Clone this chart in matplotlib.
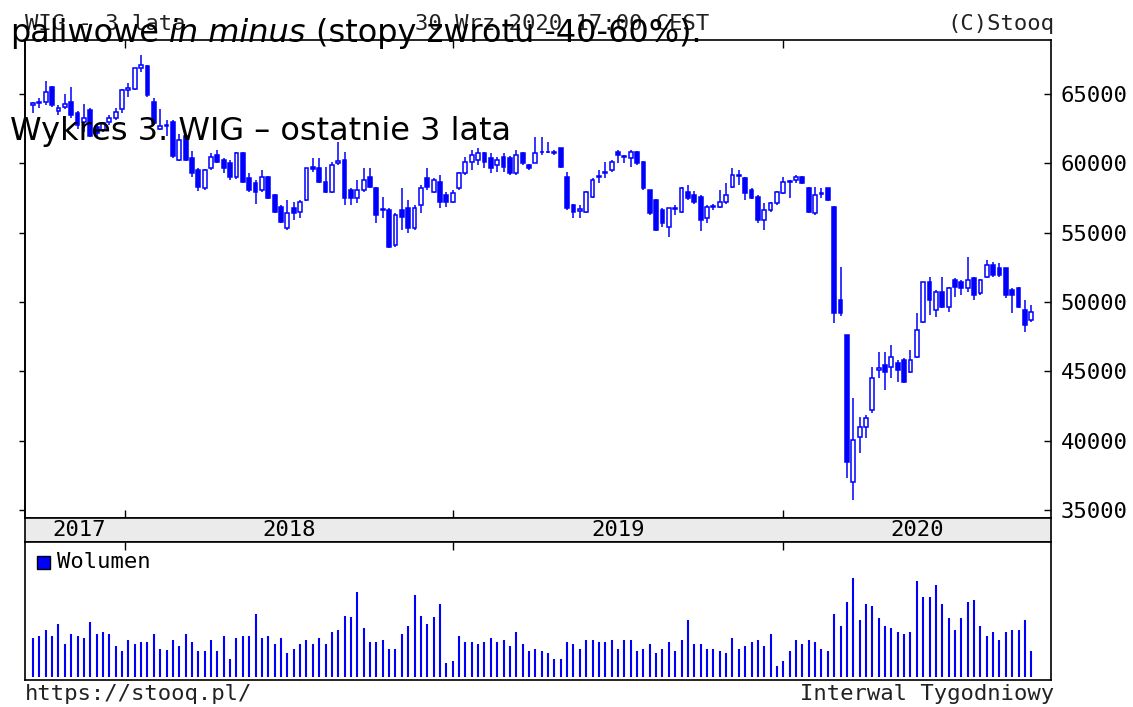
import matplotlib
matplotlib.use("Agg")
import matplotlib.pyplot as plt
from matplotlib.patches import Rectangle
import numpy as np

# weekly WIG candles, Oct 2017 - Sep 2020
opens = [64200, 64350, 64450, 65530, 63800, 64100, 64400, 63600, 63000, 63850,
         62600, 62400, 63000, 63250, 63950, 65300, 65350, 66850, 67000, 64450,
         62500, 62700, 63000, 60250, 62000, 60360, 59500, 58200, 59640, 60600,
         60240, 60000, 59040, 60770, 58920, 58560, 58080, 59040, 57720, 56880,
         55320, 56760, 56520, 57360, 59750, 59640, 58680, 57960, 60000, 60240,
         58080, 57480, 58080, 59040, 58200, 56640, 56640, 54100, 56640, 56760,
         55320, 57000, 58920, 57960, 58680, 57720, 57240, 58200, 59280, 60120,
         60240, 60720, 60360, 59880, 60480, 60360, 59280, 60720, 59850, 60050,
         60800, 60800, 60760, 61080, 59040, 57000, 56600, 56520, 57600, 59000,
         59280, 59520, 60840, 60450, 60360, 60840, 60120, 58080, 57360, 56640,
         55440, 56700, 56520, 57960, 57720, 57600, 56040, 56850, 56880, 57240,
         58320, 59100, 58920, 58080, 57600, 55920, 56640, 57120, 57840, 58650,
         58800, 59040, 58200, 56400, 57800, 58200, 56880, 50150, 47620, 37020,
         40300, 41020, 42220, 45100, 45460, 45340, 45580, 45820, 44980, 46060,
         48590, 51470, 49430, 50750, 49670, 51590, 51470, 50990, 51710, 50630,
         51830, 52670, 52430, 52430, 50870, 50990, 49430, 48710]
highs = [64450, 64700, 65950, 65600, 64200, 65000, 65500, 63800, 64300, 64000,
         62800, 63000, 63500, 64000, 65400, 65800, 66900, 67800, 67100, 64700,
         63900, 63100, 63100, 62100, 62100, 60900, 59700, 59600, 60720, 60960,
         60360, 60240, 60800, 60800, 59280, 58800, 59520, 59100, 57800, 57000,
         57360, 57240, 57360, 59700, 60360, 60360, 59760, 60120, 61560, 60840,
         58200, 58800, 59640, 59640, 58300, 57600, 56800, 56400, 58200, 57360,
         57000, 58440, 59640, 58920, 59160, 57960, 58080, 59400, 60480, 60960,
         61080, 60840, 60720, 60480, 60720, 60500, 60960, 60800, 59950, 61900,
         61920, 61560, 60960, 61100, 59400, 57100, 57000, 58000, 58920, 59520,
         60120, 60240, 60960, 60600, 60960, 60900, 60200, 58100, 57400, 56800,
         56800, 57000, 58300, 58440, 58000, 57700, 57000, 57100, 58080, 58560,
         59640, 59520, 59000, 58200, 57720, 57120, 57200, 58000, 59040, 58800,
         59160, 59100, 58320, 58320, 58200, 58200, 56900, 52550, 47620, 43060,
         41740, 41860, 45340, 46420, 46420, 46900, 45820, 45940, 46540, 49190,
         51470, 51830, 50870, 51830, 51110, 51710, 51590, 53270, 51830, 51700,
         53030, 52910, 52790, 52430, 50990, 51110, 50150, 49790]
lows = [63600, 64000, 64200, 64100, 63500, 63900, 63300, 62500, 62300, 61900,
        61800, 62300, 62800, 63100, 63600, 64800, 65300, 66600, 64800, 62800,
        62400, 62000, 60400, 60200, 60200, 59000, 58000, 58100, 59520, 60000,
        59280, 58800, 58900, 58560, 57960, 57100, 57960, 57400, 56400, 55700,
        55200, 55920, 56040, 57300, 59400, 58560, 57900, 57840, 59900, 57000,
        57000, 57120, 57960, 58200, 55680, 56040, 53900, 54000, 55200, 55000,
        55200, 56400, 58080, 57840, 56760, 56880, 57120, 58080, 59200, 59520,
        59880, 59640, 59280, 59400, 59400, 59200, 59160, 59900, 59500, 60000,
        60600, 60720, 60600, 59700, 56640, 56040, 56040, 56400, 57480, 58560,
        58920, 59400, 60000, 60000, 59760, 59900, 58100, 56280, 55100, 55400,
        54700, 56300, 56400, 57360, 57100, 55100, 55700, 56640, 56760, 57100,
        58200, 58440, 57360, 57400, 55680, 55200, 56500, 57000, 57800, 57480,
        58560, 58500, 56400, 56280, 57480, 57300, 48470, 49000, 37290, 35730,
        39100, 40180, 41980, 44500, 43660, 44500, 44260, 44140, 44860, 45940,
        48470, 49070, 48950, 49550, 49310, 50390, 50510, 50750, 50150, 50500,
        51710, 51830, 51830, 50270, 49190, 49550, 47870, 48590]
closes = [64350, 64450, 65170, 64200, 64000, 64300, 63500, 62800, 63300, 62000,
          62200, 62900, 63250, 63700, 65300, 65450, 66850, 67100, 64900, 62900,
          62700, 62800, 60500, 61700, 60250, 59300, 58300, 59520, 60480, 60120,
          59640, 59040, 60770, 58680, 58080, 57960, 59040, 57480, 56520, 55800,
          56400, 56400, 57240, 59640, 59600, 58680, 57960, 59880, 60150, 57480,
          57480, 58080, 58800, 58320, 56280, 56700, 54000, 56280, 56160, 55320,
          56760, 58200, 58320, 58800, 57240, 57240, 57840, 59280, 60120, 60600,
          60720, 60120, 59640, 60240, 59760, 59280, 60600, 60000, 59700, 60770,
          60840, 60840, 60800, 59760, 56760, 56520, 56700, 57960, 58800, 59080,
          59400, 60120, 60600, 60500, 60840, 60000, 58200, 56400, 55200, 55680,
          56760, 56760, 58200, 57480, 57240, 55920, 56880, 56900, 57240, 57720,
          59160, 59200, 57840, 57480, 55920, 56640, 57120, 57960, 58680, 58700,
          59040, 58560, 56520, 57720, 57840, 57360, 49200, 49190, 38490, 40020,
          41020, 41620, 44500, 45220, 44980, 46060, 45100, 44260, 45820, 47980,
          51470, 50150, 50750, 49670, 50990, 51110, 50990, 51590, 50510, 51590,
          52670, 51950, 51950, 50510, 50510, 49670, 48350, 49310]
# weekly volume, relative units
volume = [115, 122, 140, 122, 157, 98, 127, 122, 115, 163,
          127, 133, 127, 92, 79, 110, 98, 103, 103, 127,
          85, 80, 110, 92, 127, 103, 79, 79, 110, 79,
          122, 55, 115, 122, 122, 188, 115, 122, 98, 115,
          73, 85, 98, 110, 98, 115, 98, 133, 140, 182,
          177, 253, 145, 103, 103, 110, 85, 85, 127, 152,
          242, 182, 157, 177, 218, 43, 49, 122, 103, 103,
          98, 103, 115, 103, 110, 92, 133, 98, 79, 85,
          79, 73, 55,
          55, 103, 98, 85, 110, 110, 103, 103, 110, 85,
          110, 110, 79, 85, 98, 73, 85, 103, 79, 110,
          170, 98, 98, 85, 85, 79, 73, 115, 85, 92,
          103, 110, 92, 127, 32, 49, 79, 110, 98, 110,
          103, 85, 79, 188, 152, 224, 295, 170, 218, 212,
          176, 152, 146, 133, 127, 133, 284, 236, 236, 272,
          218, 176, 140, 176, 224, 230, 152, 122, 133, 110,
          133, 140, 140, 170, 79]

year_labels = ["2017", "2018", "2019", "2020"]
year_breaks = [14.5, 66, 118]  # week index where a new year starts
price_ticks = [35000, 40000, 45000, 50000, 55000, 60000, 65000]

BLUE = "#0000ff"
MONO = "DejaVu Sans Mono"
W, H = 1133, 707
fig = plt.figure(figsize=(W / 100, H / 100), dpi=100)


def box(l, t, r, b):
    return [l / W, 1 - b / H, (r - l) / W, (b - t) / H]


ax = fig.add_axes(box(25, 40, 1051, 518))
strip = fig.add_axes(box(25, 518, 1051, 542), sharex=ax)
vax = fig.add_axes(box(25, 542, 1051, 680), sharex=ax)

# candles
x = np.arange(len(closes))
ax.vlines(x, lows, highs, color=BLUE, lw=1.1, zorder=2)
bw = 0.6
for i in x:
    o, c = opens[i], closes[i]
    face = BLUE if c < o else "white"
    ax.add_patch(Rectangle((i - bw / 2, min(o, c)), bw, abs(c - o),
                           facecolor=face, edgecolor=BLUE, lw=1.1, zorder=3))

ax.set_xlim(-1.26, 160.1)
ax.set_ylim(34430, 68900)
ax.set_yticks(price_ticks)
ax.yaxis.tick_right()
ax.tick_params(axis="y", direction="in", length=5, width=1, pad=7,
               labelsize=16, labelfontfamily=MONO)
left = ax.secondary_yaxis("left")
left.set_yticks(price_ticks)
left.tick_params(direction="out", length=4, width=1, labelleft=False)
ax.set_xticks(year_breaks)
ax.tick_params(axis="x", direction="in", top=True, bottom=True,
               labelbottom=False, length=6, width=1)

# year strip
strip.set_facecolor("#ebebeb")
strip.set_ylim(0, 1)
strip.tick_params(bottom=False, top=False, left=False, labelbottom=False, labelleft=False)
bounds = [0] + year_breaks + [160.1]
for k, lab in enumerate(year_labels):
    strip.text((bounds[k] + bounds[k + 1]) / 2, 0.5, lab, ha="center", va="center",
               family=MONO, fontsize=16)

# volume
vax.vlines(x, 0, volume, color=BLUE, lw=1.5)
vax.set_ylim(-8, 400)
vax.tick_params(axis="x", direction="in", top=True, bottom=False,
                labelbottom=False, length=6, width=1)
vax.tick_params(axis="y", left=False, labelleft=False)
vax.add_patch(Rectangle((0.0117, 0.804), 0.0127, 0.094, transform=vax.transAxes,
                        facecolor=BLUE, edgecolor="black", lw=1))
vax.text(0.0312, 0.855, "Wolumen", transform=vax.transAxes, va="center",
         family=MONO, fontsize=16)

for a in (ax, strip, vax):
    for s in a.spines.values():
        s.set_linewidth(1.2)
left.spines["left"].set_linewidth(1.2)

# header / footer
fig.text(25 / W, 1 - 24 / H, "WIG - 3 lata", family=MONO, fontsize=16, va="center", color="#222")
fig.text(562 / W, 1 - 24 / H, "30 Wrz 2020 17:00 CEST", family=MONO, fontsize=16,
         va="center", ha="center", color="#222")
fig.text(1054 / W, 1 - 24 / H, "(C)Stooq", family=MONO, fontsize=16, va="center", ha="right", color="#222")
fig.text(25 / W, 1 - 694 / H, "https://stooq.pl/", family=MONO, fontsize=16, va="center", color="#222")
fig.text(1054 / W, 1 - 694 / H, "Interwal Tygodniowy", family=MONO, fontsize=16,
         va="center", ha="right", color="#222")

# article text lying over the picture
fig.text(10 / W, 1 - 140 / H, "Wykres 3. WIG \u2013 ostatnie 3 lata", fontsize=23,
         va="baseline", zorder=10)

renderer = fig.canvas.get_renderer()


def width_px(s, **kw):
    t = fig.text(0, 0, s, fontsize=23, **kw)
    w = t.get_window_extent(renderer).width
    t.remove()
    return w


space = width_px("a a") - width_px("aa")
xpos = 10
for piece, style in [("paliwowe", "normal"), ("in minus", "italic"),
                     ("(stopy zwrotu -40-60%).", "normal")]:
    t = fig.text(xpos / W, 1 - 42 / H, piece, fontsize=23, style=style,
                 va="baseline", zorder=10)
    xpos = t.get_window_extent(renderer).x1 + space

fig.savefig("out.png", dpi=100)
